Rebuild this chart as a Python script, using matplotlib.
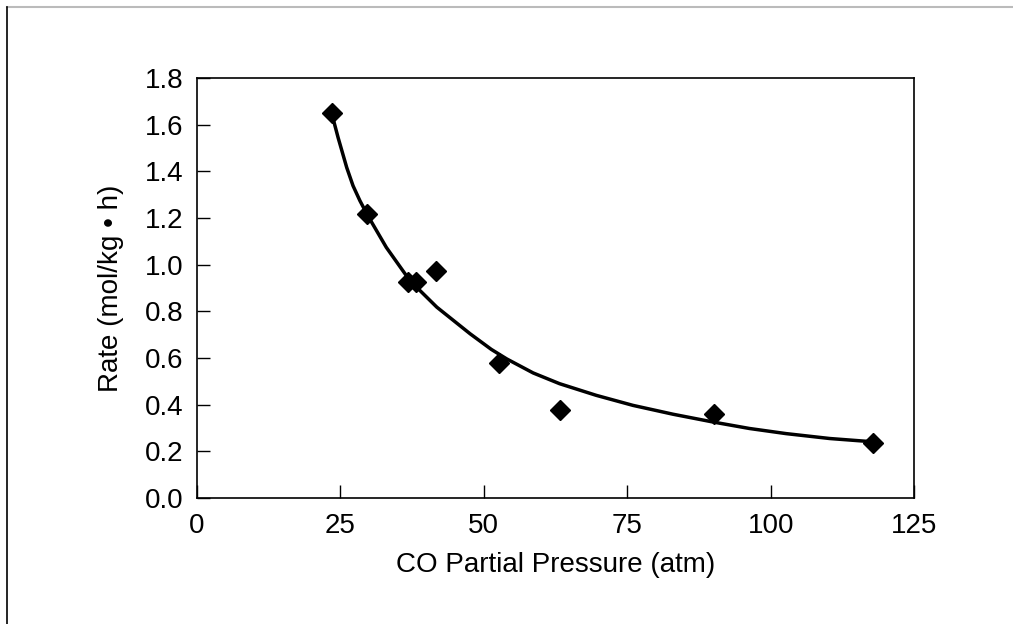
import matplotlib
matplotlib.use("Agg")
import matplotlib.pyplot as plt
from matplotlib.lines import Line2D

plt.rcParams["font.family"] = ["Liberation Sans", "DejaVu Sans"]

# measured points
presion = [23.5, 29.7, 36.8, 38.2, 41.6, 52.7, 63.2, 90.2, 117.8]
tasa = [1.651, 1.217, 0.924, 0.924, 0.971, 0.578, 0.376, 0.362, 0.236]

# fitted curve
curva_x = [23.75, 24.6, 26.1, 27.2, 28.4, 29.8, 33.0, 37.1, 41.8, 44.7, 47.6,
           51.3, 54.0, 58.6, 63.2, 69.6, 76.0, 83.0, 89.9, 96.3, 102.7, 110.3, 117.8]
curva_y = [1.623, 1.544, 1.416, 1.338, 1.274, 1.209, 1.074, 0.932, 0.818, 0.761, 0.704,
           0.637, 0.596, 0.536, 0.490, 0.440, 0.397, 0.359, 0.326, 0.298, 0.276, 0.255, 0.241]

xticks = [0, 25, 50, 75, 100, 125]
yticks = [0.0, 0.2, 0.4, 0.6, 0.8, 1.0, 1.2, 1.4, 1.6, 1.8]

fig = plt.figure(figsize=(10.13, 6.24), dpi=100)
ax = fig.add_axes([0.1945, 0.2019, 0.7078, 0.6731])

ax.plot(curva_x, curva_y, color="black", lw=2.5, solid_joinstyle="round",
        solid_capstyle="round")
ax.plot(presion, tasa, "D", color="black", ms=10, ls="none")

ax.set_xlim(0, 125)
ax.set_ylim(0, 1.8)
ax.set_xticks(xticks)
ax.set_yticks(yticks)
ax.set_yticklabels([f"{v:.1f}" for v in yticks])
ax.tick_params(direction="in", length=9.5, width=1, labelsize=20, pad=11,
               top=False, right=False)
ax.tick_params(axis="y", pad=10)
for s in ax.spines.values():
    s.set_linewidth(1.2)

ax.set_xlabel("CO Partial Pressure (atm)", fontsize=20, labelpad=9)
ax.set_ylabel("Rate (mol/kg \u2022 h)", fontsize=20, labelpad=15)

# page border lines
fig.add_artist(Line2D([7 / 1013, 1], [1 - 7 / 624, 1 - 7 / 624],
                      transform=fig.transFigure, color="#bbbbbb", lw=1.5))
fig.add_artist(Line2D([7 / 1013, 7 / 1013], [0, 1 - 7 / 624],
                      transform=fig.transFigure, color="black", lw=1.2))

fig.savefig("out.png", dpi=100)
